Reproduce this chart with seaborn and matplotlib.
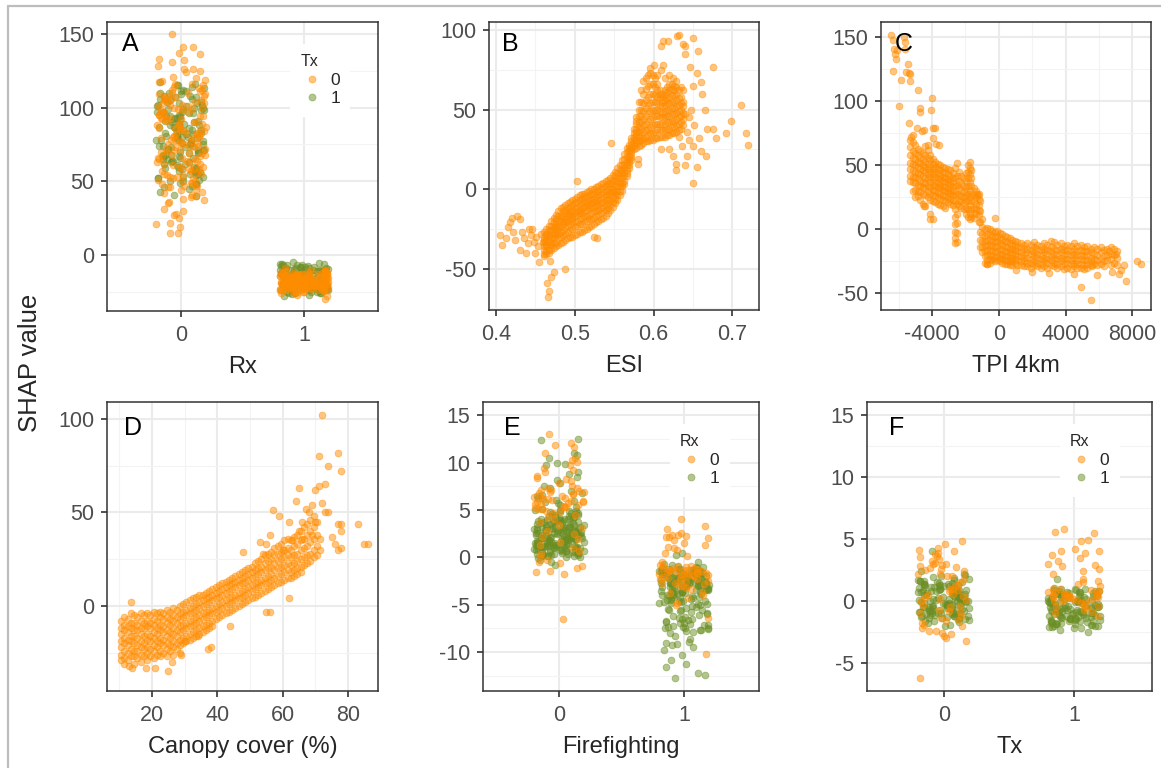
import numpy as np
import pandas as pd
import matplotlib
matplotlib.use("Agg")
import matplotlib.pyplot as plt
import seaborn as sns
from matplotlib.ticker import MultipleLocator, NullLocator, FormatStrFormatter
from matplotlib.lines import Line2D

sns.set_style("white")
plt.rcParams["font.family"] = ["Liberation Sans", "DejaVu Sans"]
plt.rcParams["axes.unicode_minus"] = False

ORANGE = "#FF8C00"
GREEN = "#6B8E23"
ALPHA = 0.5

# ---------------- A: SHAP of Rx, coloured by Tx ----------------
rx0_tx0 = [150, 141, 141, 137, 136, 133, 132, 131, 128, 126, 126, 125, 124, 121, 119, 118,
           117, 116, 116, 114, 113, 112, 111, 110, 110, 109, 108, 108, 107, 107, 106, 105,
           105, 104, 103, 103, 102, 101, 100, 100, 99, 98, 98, 97, 96, 96, 95, 95, 94, 93,
           92, 92, 91, 90, 89, 89, 88, 87, 86, 86, 85, 84, 83, 83, 82, 82, 81, 80, 79, 79,
           78, 77, 76, 76, 75, 74, 73, 73, 72, 71, 70, 70, 69, 68, 67, 66, 66, 65, 65, 64,
           63, 63, 62, 61, 60, 59, 58, 58, 57, 56, 55, 55, 54, 53, 52, 51, 50, 50, 49, 48,
           47, 46, 45, 44, 42, 41, 40, 39, 37, 36, 35, 31, 30, 28, 27, 25, 22, 21, 19, 15, 15,
           112, 106, 101, 97, 93, 88, 84, 80, 77, 74, 71, 68, 64, 60, 57, 53, 49, 46, 43, 38,
           104, 99, 94, 90, 86, 81, 78, 72, 67, 62, 58, 54, 52, 47, 120, 115, 109, 102, 92,
           85, 75, 69]
rx0_tx1 = [117, 116, 115, 114, 113, 112, 111, 110, 110, 109, 108, 107, 107, 106, 105, 104,
           104, 103, 102, 101, 101, 100, 99, 99, 98, 97, 97, 96, 96, 95, 94, 94, 93, 92, 92,
           91, 90, 90, 89, 88, 88, 87, 86, 86, 85, 85, 84, 83, 83, 82, 81, 81, 80, 80, 79,
           78, 78, 77, 76, 76, 75, 75, 74, 73, 73, 72, 71, 71, 70, 70, 69, 68, 68, 67, 66,
           66, 65, 64, 64, 63, 62, 61, 60, 60, 59, 58, 57, 56, 56, 55, 54, 53, 52, 51, 50,
           49, 48, 47, 46, 45, 43, 41, 40,
           115, 111, 106, 103, 100, 97, 93, 89, 87, 84, 82, 79, 77, 74, 72, 69, 67, 65, 62,
           59, 57, 55, 52, 50, 48, 98, 94, 91, 88, 85, 81, 78, 74, 71, 68, 63, 58, 53, 108,
           102]
rx1_tx0 = [-9, -10, -10, -11, -11, -11, -12, -12, -12, -12, -13, -13, -13, -13, -13, -14,
           -14, -14, -14, -14, -14, -15, -15, -15, -15, -15, -15, -15, -16, -16, -16, -16,
           -16, -16, -16, -17, -17, -17, -17, -17, -17, -17, -17, -18, -18, -18, -18, -18,
           -18, -18, -18, -19, -19, -19, -19, -19, -19, -19, -19, -20, -20, -20, -20, -20,
           -20, -20, -21, -21, -21, -21, -21, -21, -21, -22, -22, -22, -22, -22, -22, -23,
           -23, -23, -23, -23, -24, -24, -24, -24, -25, -25, -25, -26, -26, -27, -28, -30,
           -11.5, -12.5, -12.5, -13.5, -13.5, -14.5, -14.5, -14.5, -15.5, -15.5, -15.5,
           -16.5, -16.5, -16.5, -17.5, -17.5, -17.5, -17.5, -18.5, -18.5, -18.5, -19.5,
           -19.5, -19.5, -20.5, -20.5, -21.5, -21.5, -22.5, -22.5, -23.5, -24.5,
           -12, -13, -14, -15, -16, -17, -18, -19, -20, -21, -22, -23, -12.5, -13.5, -14.5,
           -15.5, -16.5, -17.5, -18.5, -19.5, -20.5, -21.5, -22.5, -23.5, -11, -24, -25,
           -13, -15, -17, -19, -21]
rx1_tx1 = [-5, -5.5, -6, -6, -6.5, -7, -7, -7.5, -8, -8, -8, -8.5, -9, -9, -9, -9.5, -10,
           -10, -10, -10.5, -11, -11, -11, -11.5, -12, -12, -12, -12.5, -13, -13, -13, -13.5,
           -14, -14, -14, -14.5, -15, -15, -15, -15.5, -16, -16, -16, -16.5, -17, -17, -17,
           -17.5, -18, -18, -18, -18.5, -19, -19, -19, -19.5, -20, -20, -20, -20.5, -21, -21,
           -21, -21.5, -22, -22, -22, -22.5, -23, -23, -23.5, -24, -24, -24.5, -25, -25,
           -25.5, -26, -26.5, -27, -27.5,
           -6, -7, -8, -9, -10, -11, -22, -23, -24, -25, -26, -7.5, -9.5, -11.5, -21.5,
           -23.5, -25.5, -12, -14, -16, -18, -20]

# ---------------- B: ESI (columns of SHAP values at each ESI) ----------------
esi_band = {
    0.461: [-27, -30, -32, -33, -36, -38, -41, -42],
    0.464: [-25, -28, -29, -32, -35, -36, -39, -41],
    0.467: [-23, -26, -29, -30, -33, -35, -38, -40],
    0.470: [-20, -23, -26, -28, -31, -33, -35, -38],
    0.473: [-18, -21, -24, -25, -28, -31, -34, -37],
    0.476: [-16, -19, -22, -24, -27, -29, -33, -36],
    0.479: [-14, -17, -20, -23, -25, -28, -31, -35],
    0.482: [-12, -16, -18, -21, -24, -27, -30, -34],
    0.485: [-11, -14, -17, -20, -22, -26, -29, -33],
    0.488: [-10, -13, -15, -19, -21, -24, -28, -32],
    0.491: [-9, -12, -15, -17, -20, -23, -27, -31],
    0.494: [-8, -11, -14, -16, -19, -22, -26, -30],
    0.497: [-7, -10, -13, -16, -18, -21, -25, -30],
    0.500: [-6, -9, -12, -15, -17, -21, -24, -29],
    0.503: [-5, -8, -11, -14, -16, -20, -23, -28],
    0.506: [-4, -7, -10, -13, -15, -19, -22, -27],
    0.509: [-3, -6, -9, -12, -15, -18, -22, -27],
    0.512: [-3, -5, -8, -11, -14, -17, -21, -26],
    0.515: [-2, -5, -8, -10, -13, -17, -20, -25],
    0.518: [-1, -4, -7, -10, -12, -16, -19, -24],
    0.521: [0, -3, -6, -9, -12, -15, -19, -23],
    0.524: [0, -3, -6, -8, -11, -14, -18, -22],
    0.527: [1, -2, -5, -8, -10, -14, -17, -21],
    0.530: [2, -1, -4, -7, -10, -13, -16, -20],
    0.533: [3, 0, -3, -6, -9, -12, -15, -19],
    0.536: [4, 1, -2, -5, -8, -11, -14, -18],
    0.539: [5, 2, -1, -4, -7, -10, -13, -17],
    0.542: [6, 3, 0, -3, -6, -9, -12, -15],
    0.545: [7, 4, 1, -2, -4, -7, -10, -13],
    0.548: [9, 6, 3, 0, -2, -5, -8, -11],
    0.551: [11, 8, 5, 2, -1, -3, -6, -9],
    0.554: [13, 10, 7, 5, 2, -1, -4, -7],
    0.557: [15, 12, 10, 7, 4, 2, -1, -4],
    0.560: [18, 15, 12, 10, 7, 4, 2, -1],
    0.563: [22, 19, 16, 13, 11, 8, 5, 3],
    0.566: [26, 23, 20, 17, 15, 12, 10, 8],
    0.569: [28, 26, 24, 21, 19, 17, 15, 13],
    0.572: [32, 30, 28, 26, 24, 22, 20, 18],
    0.575: [38, 35, 33, 31, 29, 27, 25],
    0.578: [26, 29, 31, 34, 36, 38, 41, 43, 45],
    0.581: [27, 30, 33, 36, 39, 42, 46, 50, 55],
    0.584: [28, 31, 34, 38, 42, 46, 50, 55, 62],
    0.587: [29, 32, 36, 40, 44, 49, 54, 60, 68],
    0.590: [30, 33, 37, 41, 46, 51, 56, 63, 70],
    0.593: [30, 34, 38, 43, 48, 53, 58, 65, 72],
    0.596: [31, 35, 39, 44, 49, 54, 60, 66, 73],
    0.599: [31, 35, 40, 45, 50, 55, 60, 66, 72],
    0.602: [32, 36, 41, 46, 50, 55, 59, 64, 70],
    0.605: [32, 37, 41, 46, 50, 54, 58, 62, 66],
    0.608: [33, 37, 41, 45, 49, 53, 57, 60, 62],
    0.611: [33, 37, 41, 45, 48, 52, 55, 58, 60],
    0.614: [33, 37, 41, 45, 49, 53, 56, 59, 62],
    0.617: [34, 38, 42, 46, 50, 54, 57, 61, 64],
    0.620: [34, 38, 42, 46, 50, 54, 58, 62, 66],
    0.623: [35, 39, 43, 47, 51, 55, 59, 63, 66],
    0.626: [35, 39, 43, 47, 51, 55, 59, 62, 65],
    0.629: [36, 40, 44, 48, 52, 56, 60, 64],
    0.632: [37, 41, 45, 49, 53, 57, 62],
    0.635: [38, 42, 46, 50, 54, 58],
    0.638: [40, 44, 48, 52, 55],
}
esi_sparse = [
    (0.405, -29), (0.408, -35), (0.412, -31), (0.415, -24), (0.418, -21), (0.420, -18),
    (0.421, -27), (0.424, -32), (0.427, -17), (0.430, -19), (0.431, -38), (0.433, -27),
    (0.436, -31), (0.438, -40), (0.440, -34), (0.442, -25), (0.444, -29), (0.446, -25),
    (0.448, -33), (0.450, -40), (0.451, -30), (0.453, -36), (0.455, -46), (0.457, -28),
    (0.459, -33), (0.465, -59), (0.467, -64), (0.466, -68), (0.470, -55), (0.473, -52),
    (0.487, -50), (0.468, -45), (0.503, 5), (0.546, 29), (0.525, -30), (0.528, -31),
    (0.580, 19), (0.580, 16), (0.610, 90), (0.612, 93), (0.618, 93), (0.630, 96),
    (0.633, 97), (0.638, 91), (0.640, 90), (0.640, 85), (0.650, 95), (0.657, 87),
    (0.646, 77), (0.655, 73), (0.662, 60), (0.665, 50), (0.676, 77), (0.650, 65),
    (0.660, 67), (0.668, 38), (0.675, 38), (0.680, 32), (0.692, 35), (0.698, 43),
    (0.711, 53), (0.718, 35), (0.720, 28), (0.667, 21), (0.650, 27), (0.655, 14),
    (0.650, 4), (0.640, 15), (0.628, 12), (0.628, 16), (0.625, 21), (0.636, 27),
    (0.643, 21), (0.660, 24), (0.658, 32), (0.642, 36), (0.645, 45), (0.638, 62),
    (0.635, 64), (0.620, 25), (0.610, 25), (0.595, 76), (0.600, 78), (0.605, 72),
    (0.612, 78), (0.610, 75), (0.615, 70), (0.620, 72), (0.625, 70), (0.628, 68),
    (0.648, 50), (0.652, 40), (0.640, 47), (0.645, 31), (0.633, 33),
]

# ---------------- C: TPI 4km ----------------
tpi_band = {
    -5300: [70, 64, 58, 52, 47, 42, 38], -5150: [68, 61, 56, 51, 46, 41, 37, 30],
    -5000: [66, 60, 55, 50, 45, 41, 36, 31, 25], -4850: [63, 58, 53, 49, 44, 40, 35, 30, 26],
    -4700: [61, 56, 52, 47, 43, 38, 34, 29, 23], -4550: [60, 55, 50, 46, 42, 37, 33, 28, 20],
    -4400: [58, 53, 49, 45, 40, 36, 32, 27, 18], -4250: [62, 56, 51, 47, 43, 39, 34, 30, 25],
    -4100: [58, 54, 49, 45, 41, 37, 33, 28, 23, 12], -3950: [55, 51, 47, 43, 39, 35, 31, 27, 22, 8],
    -3800: [53, 49, 45, 41, 37, 34, 30, 26, 21], -3650: [51, 47, 44, 40, 36, 33, 29, 25, 20],
    -3500: [50, 46, 42, 39, 35, 32, 28, 24, 19], -3350: [49, 45, 41, 38, 34, 31, 27, 23, 18],
    -3200: [48, 44, 40, 37, 33, 30, 26, 22, 17], -3050: [47, 43, 39, 36, 32, 29, 25, 21],
    -2900: [46, 42, 38, 35, 31, 28, 24, 20], -2750: [44, 40, 37, 33, 30, 27, 23, 19],
    -2600: [48, 40, 34, 28, 22, 16, 10, 4, -2, -7, -11], -2500: [52, 42, 35, 28, 20, 12, 5, -3, -10],
    -2400: [45, 38, 32, 27, 22, 18], -2250: [42, 36, 31, 26, 22, 17],
    -2100: [40, 34, 29, 25, 21, 16], -1950: [44, 38, 32, 27, 22, 17, 12],
    -1850: [50, 45, 40, 34, 28, 22, 16, 10], -1750: [53, 48, 43, 37, 31, 25, 19, 13, 8],
    -1650: [46, 40, 34, 28, 22, 16, 10], -1500: [32, 27, 22, 17, 13, 9],
    -1350: [30, 25, 20, 16, 12], -1200: [28, 24, 19, 15, 11, 6],
    -1100: [22, 14, 6, -2, -8, -14], -1000: [8, 2, -4, -9, -14, -18],
    -850: [0, -5, -9, -13, -17, -21, -26], -700: [1, -4, -8, -12, -16, -20, -24, -27],
    -550: [0, -4, -8, -12, -16, -20, -23, -26], -400: [-1, -5, -9, -13, -17, -21, -24],
    -250: [-2, -6, -10, -14, -18, -22, -25, 9], -100: [-1, -5, -9, -13, -17, -21, -24],
    50: [-3, -7, -11, -15, -19, -22, -25], 200: [-4, -8, -12, -16, -20, -23, -26],
    350: [-5, -9, -13, -17, -21, -24, -27], 500: [-6, -10, -14, -18, -21, -24, -27],
    650: [-7, -11, -15, -18, -22, -25, -28], 800: [-8, -12, -15, -19, -22, -25, -28],
    950: [-9, -12, -16, -19, -23, -26], 1100: [-10, -14, -17, -21, -24, -28],
    1300: [-11, -14, -18, -21, -25, -28], 1500: [-12, -15, -19, -22, -25, -29],
    1700: [-11, -15, -18, -22, -26, -29], 1900: [-12, -16, -19, -23, -26, -30],
    2100: [-10, -14, -18, -21, -25, -28], 2300: [-12, -15, -19, -22, -26, -29],
    2500: [-13, -16, -20, -23, -27, -30], 2700: [-11, -15, -18, -22, -25, -29],
    2900: [-12, -16, -19, -23, -26, -30], 3100: [-9, -14, -17, -21, -24, -28],
    3300: [-10, -15, -19, -22, -26, -29], 3500: [-12, -16, -20, -23, -27, -30],
    3700: [-11, -15, -18, -22, -25, -29], 3900: [-13, -16, -20, -23, -27, -31],
    4100: [-12, -16, -19, -23, -26, -30], 4300: [-13, -17, -20, -24, -27, -31],
    4500: [-11, -15, -19, -22, -26, -29], 4700: [-13, -17, -20, -24, -27, -30],
    4900: [-12, -16, -20, -23, -27, -30], 5100: [-14, -17, -21, -24, -28, -31],
    5300: [-13, -17, -20, -24, -27, -30], 5500: [-15, -18, -22, -25, -28],
    5700: [-14, -19, -23, -27], 5900: [-15, -20, -24, -28], 6100: [-14, -18, -23, -27],
    6300: [-16, -21, -25, -29], 6500: [-15, -20, -24], 6700: [-14, -19, -23, -28],
    6900: [-15, -20, -26], 7100: [-17, -22, -28],
}
tpi_sparse = [
    (-6450, 152), (-6350, 148), (-6300, 141), (-6200, 137), (-6150, 133), (-6100, 140),
    (-6350, 124), (-5850, 117), (-5700, 150), (-5650, 146), (-5600, 141), (-5450, 129),
    (-5400, 122), (-5300, 121), (-5550, 123), (-5350, 116), (-6000, 96), (-4850, 109),
    (-4750, 95), (-4750, 92), (-4500, 78), (-4000, 103), (-4050, 93), (-3950, 79),
    (-3850, 79), (-3950, 71), (-5400, 83), (-4900, 79), (-4600, 77), (-5250, 72),
    (-5150, 74), (-4450, 65), (-4250, 66), (-3600, 66), (-3750, 67), (-4500, 18),
    (-4100, 8), (-1300, 28), (-1250, 27), (4900, -45), (5500, -55), (5900, -36),
    (7300, -32), (7600, -40), (7500, -28), (8300, -25), (8500, -27), (6800, -33),
    (7200, -35), (2000, -33), (3000, -34), (4500, -35), (1000, -32), (-700, -27),
    (5600, -29), (7000, -19), (6600, -17),
]

# ---------------- D: Canopy cover ----------------
canopy_band = {
    10.5: [-8, -12, -15, -19, -22, -26, -29], 11.5: [-6, -10, -13, -17, -20, -24, -28, -31],
    12.5: [-7, -11, -14, -18, -21, -25, -29], 13.5: [-4, -9, -12, -16, -19, -23, -27, 2],
    14.5: [-5, -9, -13, -16, -20, -24, -27, -31], 15.5: [-6, -10, -13, -17, -21, -24, -28],
    16.5: [-4, -8, -12, -15, -19, -22, -26, -30], 17.5: [-5, -9, -12, -16, -20, -23, -27],
    18.5: [-4, -8, -11, -15, -18, -22, -25, -29], 19.5: [-5, -9, -12, -16, -19, -23, -27],
    20.5: [-3, -7, -10, -14, -17, -21, -24, -28], 21.5: [-4, -8, -12, -15, -19, -22, -26],
    22.5: [-3, -6, -10, -13, -17, -20, -24, -27], 23.5: [-4, -7, -11, -14, -18, -21, -25],
    24.5: [-2, -6, -9, -13, -16, -20, -23, -27], 25.5: [-3, -7, -10, -14, -17, -21, -24],
    26.5: [-1, -5, -8, -12, -15, -19, -22, -26], 27.5: [-2, -6, -9, -13, -16, -20, -23],
    28.5: [0, -4, -7, -11, -14, -18, -21, -25], 29.5: [1, -3, -6, -10, -13, -17, -20],
    30.5: [2, -2, -5, -9, -12, -16, -19], 31.5: [3, -1, -4, -8, -11, -15, -18],
    32.5: [4, 0, -3, -7, -10, -14, -17], 33.5: [5, 1, -2, -6, -9, -13, -16],
    34.5: [6, 2, -1, -5, -8, -12, -15], 35.5: [6, 3, 0, -4, -7, -11, -14],
    36.5: [7, 4, 1, -3, -6, -10, -13], 37.5: [8, 5, 2, -2, -5, -9, -12],
    38.5: [9, 6, 3, -1, -4, -8, -11], 39.5: [10, 7, 4, 0, -3, -7],
    40.5: [11, 8, 5, 1, -2, -6], 41.5: [12, 9, 6, 2, -1, -5],
    42.5: [13, 10, 7, 3, 0, -4], 43.5: [14, 11, 8, 4, 1, -3],
    44.5: [15, 12, 9, 5, 2, -2], 45.5: [16, 13, 10, 6, 3, -1],
    46.5: [17, 14, 11, 7, 4, 0], 47.5: [18, 15, 12, 8, 5, 1],
    48.5: [19, 16, 13, 9, 6, 2], 49.5: [20, 17, 14, 10, 7, 3],
    50.5: [21, 18, 15, 11, 8, 4], 51.5: [23, 19, 16, 12, 9, 5],
    52.5: [24, 20, 17, 13, 10, 6], 53.5: [25, 21, 18, 14, 11, 7],
    54.5: [27, 23, 19, 15, 12, 8], 55.5: [28, 24, 20, 16, 13, 9],
    56.5: [29, 25, 21, 17, 14, 10], 57.5: [31, 27, 23, 19, 15, 11],
    58.5: [32, 28, 24, 20, 16, 12], 59.5: [33, 29, 25, 21, 17, 13],
    60.5: [35, 30, 26, 22, 18, 14], 61.5: [36, 31, 27, 23, 19, 15],
    62.5: [35, 30, 26, 22, 18, 15], 63.5: [37, 32, 27, 23, 19, 16],
    64.5: [38, 33, 28, 24, 20, 17], 65.5: [40, 35, 30, 25, 21, 18],
    66.5: [42, 36, 31, 26, 22], 67.5: [44, 38, 32, 27, 23],
    68.5: [46, 40, 34, 28, 24], 69.5: [48, 42, 36, 30, 26],
    70.5: [45, 38, 32, 27], 71.5: [36, 30],
}
canopy_sparse = [
    (14, -33), (13, -32), (18, -33), (21, -33), (25, -35), (26, -30), (29, -26), (37, -23),
    (72, 102), (71, 80), (77, 82), (74, 75), (78, 72), (65, 63), (70, 62), (71, 64),
    (73, 65), (83, 44), (85, 33), (86, 33), (77, 44), (78, 44), (78, 40), (78, 31),
    (75, 37), (76, 33), (77, 30), (73, 50), (74, 50), (69, 54), (64, 56), (68, 50),
    (72, 55), (69, 38), (62, 45), (66, 45), (70, 45), (63, 35), (65, 40), (57, 51),
    (59, 48), (55, 33), (56, 38), (60, 30), (48, 29), (53, 34), (54, 28), (55, -3),
    (56, -3), (44, -11), (38, -22), (30, -19), (34, -16), (62, 4), (67, 52), (66, 36),
]

# ---------------- E: Firefighting, coloured by Rx ----------------
ff0_rx0 = [13.0, 12.1, 11.9, 11.6, 11.0, 10.5, 10.1, 9.8, 9.4, 9.0, 8.6, 8.4, 8.1, 7.8, 7.5,
           7.3, 7.1, 7.0, 6.9, 6.8, 6.7, 6.5, 6.4, 6.3, 6.2, 6.1, 6.0, 5.9, 5.8, 5.7, 5.6,
           5.5, 5.4, 5.3, 5.2, 5.1, 4.9, 4.7, 4.5, 4.3, 4.0, 3.7, 3.4, 3.1, 2.8, 2.5, 2.2,
           1.9, 1.6, 1.3, 1.0, 0.7, 0.4, 0.1, -0.3, -0.6, -0.9, -1.1, -1.4, -1.5, -1.7, -6.5,
           4.85, 5.35, 5.85, 6.35, 6.85, 7.35, 5.15, 5.65, 6.15, 6.65, 7.15, -0.45, 8.3,
           9.2, 10.3]
ff0_rx1 = [12.5, 12.4, 11.0, 10.8, 10.5, 10.0, 9.9, 9.7, 9.0, 8.8, 8.5, 8.2, 7.9, 7.5, 7.3,
           7.0, 6.8, 6.6, 6.5, 6.3, 6.1, 5.9, 5.8, 5.7, 5.5, 5.3, 5.1,
           5.0, 4.8, 4.6, 4.4, 4.2, 4.0, 3.8, 3.6, 3.4, 3.2, 3.0, 2.8, 2.6, 2.4, 2.2, 2.0,
           1.8, 1.6, 1.4, 1.2, 1.0, 0.8, 0.6, 0.4, 0.2, 0.0,
           4.9, 4.7, 4.5, 4.3, 4.1, 3.9, 3.7, 3.5, 3.3, 3.1, 2.9, 2.7, 2.5, 2.3, 2.1, 1.9,
           1.7, 1.5, 1.3, 1.1, 0.9, 0.7, 0.5, 0.3, 0.1, -0.1,
           4.45, 3.85, 3.25, 2.95, 2.65, 2.35, 2.05, 1.75, 1.45, 1.15, 0.85, 0.55, 0.25,
           -0.25, -0.5, -0.8, 3.75, 3.05, 2.55, 2.15, 1.85, 1.65, 1.35, 1.05, 0.65, 0.35,
           2.45, 1.25, 3.45, 2.85, 2.25, 1.95, 1.55, 1.0, 2.6, 2.0, 1.4, 0.95, 3.15,
           0.05, 0.15, 0.25, 0.35, 0.45, 0.55, 0.65, 0.75, 0.85, 0.95, 1.05, 1.15, 1.25,
           1.35, 1.45, 1.55, 1.65, 1.75, 1.85, 1.95, 2.05, 2.15, 2.25, 2.35, 2.45, 2.55,
           2.65, 2.75, 2.85, 2.95, 3.05, 3.15, 3.25, 3.35, 3.45, 3.55, 3.65, 3.75, 3.85,
           3.95, 4.05, 4.15, 4.25, 4.35, 4.55, 4.65, 4.75, 4.85, 4.95,
           0.12, 0.32, 0.52, 0.72, 0.92, 1.12, 1.32, 1.52, 1.72, 1.92, 2.12, 2.32, 2.52,
           2.72, 2.92, 3.12, 3.32, 3.52, 3.72, 3.92, 0.42, 0.82, 1.22, 1.62, 2.02, 2.42,
           2.82, 3.22, 3.62, 4.02, 1.08, 1.28, 1.48, 1.68, 1.88, 2.08, 2.28, 2.48, 2.68,
           2.88]
ff1_rx0 = [4.0, 3.3, 3.0, 2.6, 2.4, 2.3, 2.2, 2.2, 2.0, 1.8, 1.5, 1.3, 1.0, 0.8, 0.2, -0.5,
           -0.8, -0.9, -1.0, -1.1, -1.1, -1.2, -1.2, -1.3, -1.3, -1.4, -1.4, -1.5, -1.5,
           -1.6, -1.6, -1.7, -1.8, -1.8, -1.9, -2.0, -2.0, -2.1, -2.2, -2.3, -2.4, -2.5,
           -2.6, -2.7, -2.8, -3.0, -3.2, -3.3, -3.6, -3.8, -4.0, -4.3, -4.8, -5.0, -6.4,
           -10.2, -1.05, -1.45, -1.85, -2.25, -2.65, -3.05, -1.35, -1.75, -2.15, -0.95,
           2.35, 1.05, 0.45]
ff1_rx1 = [-1.0, -1.2, -1.4, -1.6, -1.8, -2.0, -2.2, -2.4, -2.6, -2.8, -3.0, -3.2, -3.4,
           -3.6, -3.8, -4.0, -4.2, -4.4, -4.6, -4.8, -5.0,
           -1.1, -1.3, -1.5, -1.7, -1.9, -2.1, -2.3, -2.5, -2.7, -2.9, -3.1, -3.3, -3.5,
           -3.7, -3.9, -4.1, -4.3, -4.5,
           -1.25, -1.65, -2.05, -2.45, -2.85, -3.25, -3.65, -1.45, -1.85, -2.25, -2.65,
           -3.05, -3.45, -2.15, -2.55, -2.95, -1.75,
           -1.35, -1.55, -1.95, -2.35, -2.75, -3.15, -3.55, -3.95, -4.35, -2.0, -2.5, -3.0,
           -1.5, -2.2, -2.8,
           -5.2, -5.4, -5.6, -5.8, -6.0, -6.2, -6.4, -6.6, -6.8, -7.0, -7.1, -7.2, -7.3,
           -7.4, -7.5, -7.6, -7.8, -8.0, -8.3, -8.6, -5.5, -6.5, -6.9, -7.7, -4.7, -4.9,
           0.5, 0.3, -0.5, -0.8, -9.0, -9.2, -9.5, -9.8, -10.3, -10.8, -11.3, -11.6, -12.2,
           -12.4, -12.7, -9.1, -8.9,
           -1.05, -1.15, -1.35, -1.45, -1.55, -1.65, -1.85, -1.95, -2.05, -2.25, -2.35,
           -2.45, -2.55, -2.65, -2.75, -2.85, -2.95, -3.05, -3.15, -3.35, -3.45, -3.55,
           -3.75, -3.85, -3.95, -4.05, -4.15, -4.25, -4.45, -4.55, -4.65, -4.75, -4.85,
           -4.95, -1.22, -1.42, -1.62, -1.82, -2.02, -2.22, -2.42, -2.62, -2.82, -3.02,
           -3.22, -3.42, -3.62, -3.82, -5.1, -5.3, -5.5, -5.7, -5.9, -6.1, -6.3, -6.5, -6.7,
           -6.9, -7.1, -7.3, -7.5, -7.7, -7.9, -0.9, -0.7]

# ---------------- F: Tx, coloured by Rx ----------------
tx0_rx0 = [4.8, 4.6, 4.3, 4.1, 4.0, 3.9, 3.8, 3.6, 3.4, 3.1, 3.0, 2.9, 2.8, 2.7, 2.6, 2.4,
           2.2, 2.0, 1.8, 1.5, 1.2, 1.0, 0.8, 0.5, 0.3, 0.0, -0.3, -0.5, -0.8, -1.0, -1.2,
           -1.4, -1.6, -1.8, -2.0, -2.2, -2.4, -2.6, -2.8, -3.0, -3.2, -6.2, 0.6, 0.2, -0.4,
           1.0, -0.9, 0.4, -1.5, 2.5, 3.0, 1.3, 0.9, 0.1, -0.7, 2.2, 2.75, 3.25, 2.05,
           3.55, -2.45, -2.65, -1.95]
tx0_rx1 = [1.6, 1.5, 1.4, 1.3, 1.2, 1.1, 1.0, 0.9, 0.8, 0.7, 0.6, 0.5, 0.4, 0.3, 0.2, 0.1,
           0.0, -0.1, -0.2, -0.3, -0.4, -0.5, -0.6, -0.7, -0.8, -0.9, -1.0, -1.1, -1.2,
           -1.3, -1.4, -1.5,
           1.55, 1.35, 1.15, 0.95, 0.75, 0.55, 0.35, 0.15, -0.05, -0.25, -0.45, -0.65,
           -0.85, -1.05, -1.25, -1.45,
           1.45, 1.25, 1.05, 0.85, 0.65, 0.45, 0.25, 0.05, -0.15, -0.35, -0.55, -0.75,
           -0.95, -1.15, -1.35,
           1.2, 0.8, 0.4, 0.0, -0.4, -0.8, -1.2, 1.0, 0.6, 0.2, -0.2, -0.6, -1.0,
           4.0, 2.4, 2.1, 1.9, 1.8, 1.7, -1.7, -2.0,
           1.62, 1.42, 1.22, 1.02, 0.82, 0.62, 0.42, 0.22, 0.02, -0.18, -0.38, -0.58, -0.78,
           -0.98, -1.18, -1.38, -1.58, 1.58, 1.38, 1.18, 0.98, 0.78, 0.58, 0.38, 0.18,
           -0.02, -0.22, -0.42, -0.62, -0.82, -1.02, -1.22, -1.42, 1.32, 1.12, 0.92, 0.72,
           0.52, 0.32, 0.12, -0.08, -0.28, -0.48, -0.68, -0.88, -1.08, -1.28, 1.72, 1.88,
           2.02, 2.2, -1.62, -1.75, -1.9]
tx1_rx0 = [5.8, 5.6, 5.5, 4.9, 4.8, 4.2, 4.0, 4.0, 3.9, 3.7, 3.5, 3.2, 3.0, 2.9, 2.8, 2.6,
           2.4, 1.8, 1.5, 1.2, 1.0, 0.8, 0.6, 0.5, 0.4, 0.3, 0.2, 0.1, 0.0, -0.1, -0.2, -0.3,
           -0.5, -0.7, -0.9, -1.0, -1.2, 0.5, 0.2, -0.4, 0.7, 0.0, -0.6, 0.3, 0.9, 0.7, 0.4,
           0.1, 0.6, 0.3, 0.95, 0.75, 0.55, 0.35, 1.35, 1.65, 2.15]
tx1_rx1 = [1.0, 0.9, 0.8, 0.7, 0.6, 0.5, 0.4, 0.3, 0.2, 0.1, 0.0, -0.1, -0.2, -0.3, -0.4,
           -0.5, -0.6, -0.7, -0.8, -0.9, -1.0, -1.1, -1.2, -1.3, -1.4, -1.5, -1.6, -1.7,
           -1.8, -1.9, -2.0,
           0.95, 0.75, 0.55, 0.35, 0.15, -0.05, -0.25, -0.45, -0.65, -0.85, -1.05, -1.25,
           -1.45, -1.65, -1.85,
           0.85, 0.65, 0.45, 0.25, 0.05, -0.15, -0.35, -0.55, -0.75, -0.95, -1.15, -1.35,
           -1.55, -1.75, -1.95,
           -0.3, -0.7, -1.1, -1.5, -0.5, -0.9, -1.3, -0.1, -0.6, -1.0, -1.4, -0.8,
           1.8, -2.2, -2.3, -2.5, -2.1,
           1.02, 0.82, 0.62, 0.42, 0.22, 0.02, -0.18, -0.38, -0.58, -0.78, -0.98, -1.18,
           -1.38, -1.58, -1.78, -1.98, 0.98, 0.78, 0.58, 0.38, 0.18, -0.02, -0.22, -0.42,
           -0.62, -0.82, -1.02, -1.22, -1.42, -1.62, -1.82, -2.02, 0.72, 0.52, 0.32, 0.12,
           -0.08, -0.28, -0.48, -0.68, -0.88, -1.08, -1.28, -1.48, -1.68, -1.88, -2.08,
           -2.18]


def strip_frame(xname, hname, groups):
    rows = []
    for (xv, hv), vals in groups.items():
        rows += [(xv, hv, v) for v in vals]
    return pd.DataFrame(rows, columns=[xname, hname, "SHAP"])


def scatter_frame(xname, band, sparse):
    rows = [(x, y) for x, ys in band.items() for y in ys] + list(sparse)
    return pd.DataFrame(rows, columns=[xname, "SHAP"])


def style_axes(ax, discrete=False):
    ax.set_axisbelow(True)
    if discrete:
        ax.xaxis.set_minor_locator(NullLocator())
    ax.grid(which="major", color="#EBEBEB", linewidth=1.5)
    ax.grid(which="minor", color="#F3F3F3", linewidth=0.8)
    for sp in ax.spines.values():
        sp.set_color("#333333")
        sp.set_linewidth(1.1)
    ax.tick_params(which="major", length=4, width=1.2, color="#333333",
                   labelsize=15.5, labelcolor="#4D4D4D", left=True, bottom=True)
    ax.tick_params(axis="x", which="major", pad=6)
    ax.tick_params(axis="y", which="major", pad=5)
    ax.tick_params(which="minor", length=0)
    ax.set_ylabel("")


def add_legend(ax, title, anchor):
    handles = [Line2D([], [], marker="o", ls="", color=c, alpha=ALPHA, markersize=5,
                      markeredgewidth=0.6) for c in (ORANGE, GREEN)]
    leg = ax.legend(handles, ["0", "1"], title=title, loc="upper right",
                    bbox_to_anchor=anchor, frameon=True, framealpha=1,
                    facecolor="white", edgecolor="none", fontsize=12.5,
                    title_fontsize=11.5, handletextpad=0.4, borderpad=0.6,
                    labelspacing=0.2, handlelength=1.3, alignment="left")
    leg.get_frame().set_boxstyle("square", pad=0.0)


def panel_letter(ax, letter, xy):
    ax.text(xy[0], xy[1], letter, transform=ax.transAxes, fontsize=18,
            ha="left", va="center", color="black", zorder=5)


def strips(ax, df, xname, hname):
    for level, col in (("1", GREEN), ("0", ORANGE)):
        sub = df[df[hname] == level]
        sns.stripplot(data=sub, x=xname, y="SHAP", order=["0", "1"], color=col,
                      jitter=0.2, size=4.9, alpha=ALPHA, linewidth=0.6,
                      edgecolor=col, ax=ax, zorder=3)


def points(ax, df, xname):
    sns.scatterplot(data=df, x=xname, y="SHAP", color=ORANGE, alpha=ALPHA, s=24,
                    linewidth=0.6, edgecolor=ORANGE, ax=ax, zorder=3)


np.random.seed(7)
fig = plt.figure(figsize=(11.61, 7.68), dpi=100)
W, H = 1161.0, 768.0


def make_axes(l, t, r, b):
    return fig.add_axes([l / W, 1 - b / H, (r - l) / W, (b - t) / H])


axA = make_axes(107, 22, 378, 311)
axB = make_axes(489, 22, 759, 310)
axC = make_axes(881, 22, 1151, 310)
axD = make_axes(107, 402, 378, 691)
axE = make_axes(483, 402, 759, 691)
axF = make_axes(867, 402, 1152, 691)

XL = dict(fontsize=17, labelpad=7)

# A
dfA = strip_frame("Rx", "Tx", {("0", "0"): rx0_tx0, ("0", "1"): rx0_tx1,
                               ("1", "0"): rx1_tx0, ("1", "1"): rx1_tx1})
strips(axA, dfA, "Rx", "Tx")
axA.set_xlim(-0.6, 1.6)
axA.set_ylim(-38, 158)
axA.yaxis.set_major_locator(MultipleLocator(50))
axA.yaxis.set_minor_locator(MultipleLocator(25))
style_axes(axA, discrete=True)
axA.set_xlabel("Rx", **XL)
add_legend(axA, "Tx", (0.93, 0.955))
panel_letter(axA, "A", (0.055, 0.924))

# B
dfB = scatter_frame("ESI", esi_band, esi_sparse)
points(axB, dfB, "ESI")
axB.set_xlim(0.391, 0.734)
axB.set_ylim(-76, 105)
axB.xaxis.set_major_locator(MultipleLocator(0.1))
axB.xaxis.set_minor_locator(MultipleLocator(0.05))
axB.yaxis.set_major_locator(MultipleLocator(50))
axB.yaxis.set_minor_locator(MultipleLocator(25))
axB.xaxis.set_major_formatter(FormatStrFormatter("%.1f"))
style_axes(axB)
axB.set_xlabel("ESI", **XL)
panel_letter(axB, "B", (0.048, 0.924))

# C
dfC = scatter_frame("TPI", tpi_band, tpi_sparse)
points(axC, dfC, "TPI")
axC.set_xlim(-7060, 9115)
axC.set_ylim(-63, 162)
axC.xaxis.set_major_locator(MultipleLocator(4000))
axC.xaxis.set_minor_locator(MultipleLocator(2000))
axC.yaxis.set_major_locator(MultipleLocator(50))
axC.yaxis.set_minor_locator(MultipleLocator(25))
style_axes(axC)
axC.set_xlabel("TPI 4km", **XL)
panel_letter(axC, "C", (0.052, 0.924))

# D
dfD = scatter_frame("Canopy", canopy_band, canopy_sparse)
points(axD, dfD, "Canopy")
axD.set_xlim(6.2, 89.2)
axD.set_ylim(-45.5, 109)
axD.xaxis.set_major_locator(MultipleLocator(20))
axD.xaxis.set_minor_locator(MultipleLocator(10))
axD.yaxis.set_major_locator(MultipleLocator(50))
axD.yaxis.set_minor_locator(MultipleLocator(25))
style_axes(axD)
axD.set_xlabel("Canopy cover (%)", **XL)
panel_letter(axD, "D", (0.063, 0.91))

# E
dfE = strip_frame("Firefighting", "Rx", {("0", "0"): ff0_rx0, ("0", "1"): ff0_rx1,
                                         ("1", "0"): ff1_rx0, ("1", "1"): ff1_rx1})
strips(axE, dfE, "Firefighting", "Rx")
axE.set_xlim(-0.61, 1.6)
axE.set_ylim(-14.1, 16.4)
axE.yaxis.set_major_locator(MultipleLocator(5))
axE.yaxis.set_minor_locator(MultipleLocator(2.5))
style_axes(axE, discrete=True)
axE.set_xlabel("Firefighting", **XL)
add_legend(axE, "Rx", (0.925, 0.955))
panel_letter(axE, "E", (0.076, 0.91))

# F
dfF = strip_frame("Tx", "Rx", {("0", "0"): tx0_rx0, ("0", "1"): tx0_rx1,
                               ("1", "0"): tx1_rx0, ("1", "1"): tx1_rx1})
strips(axF, dfF, "Tx", "Rx")
axF.set_xlim(-0.59, 1.6)
axF.set_ylim(-7.26, 16.05)
axF.yaxis.set_major_locator(MultipleLocator(5))
axF.yaxis.set_minor_locator(MultipleLocator(2.5))
style_axes(axF, discrete=True)
axF.set_xlabel("Tx", **XL)
add_legend(axF, "Rx", (0.917, 0.955))
panel_letter(axF, "F", (0.077, 0.91))

fig.text(30 / W, 1 - 363 / H, "SHAP value", rotation=90, fontsize=18.5,
         ha="center", va="center")

# light outer frame along the top and left edges
fig.add_artist(Line2D([8 / W, 8 / W], [0, 1 - 6 / H], transform=fig.transFigure,
                      color="#BDBDBD", linewidth=1.6))
fig.add_artist(Line2D([8 / W, 1], [1 - 6 / H, 1 - 6 / H], transform=fig.transFigure,
                      color="#BDBDBD", linewidth=1.6))

fig.savefig("out.png", dpi=100, facecolor="white")
